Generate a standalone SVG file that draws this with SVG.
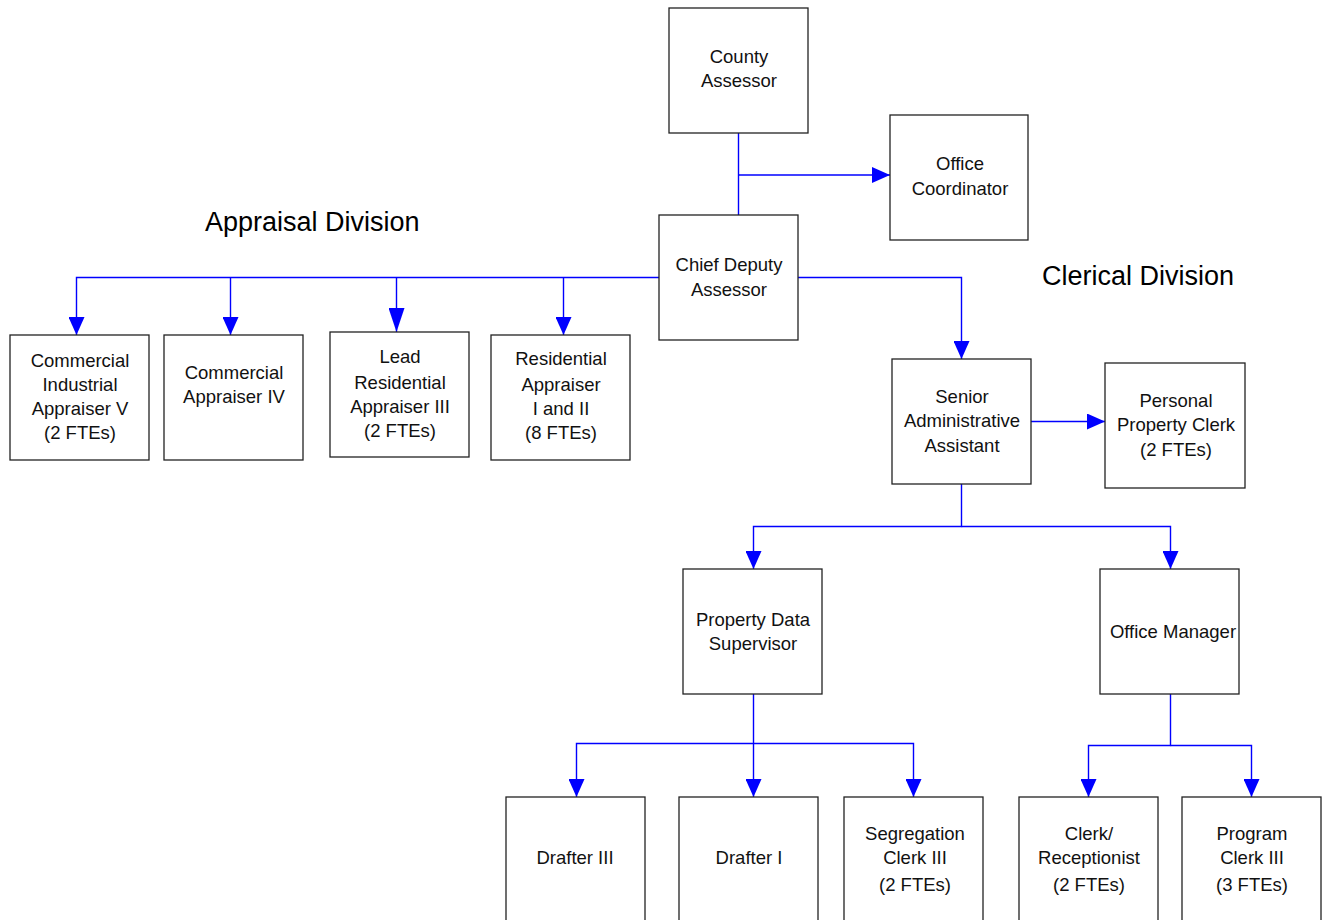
<svg xmlns="http://www.w3.org/2000/svg" width="1323" height="920" viewBox="0 0 1323 920">
<style>
.box{fill:#fff;stroke:#222;stroke-width:1.3}
.t{font-family:"Liberation Sans",Arial,sans-serif;font-size:18.5px;fill:#111;text-anchor:middle}
.h{font-family:"Liberation Sans",Arial,sans-serif;font-size:27px;fill:#000}
.c{fill:none;stroke:#0000ff;stroke-width:1.4}
</style>
<defs>
<marker id="arr" markerUnits="userSpaceOnUse" markerWidth="18" markerHeight="16" refX="18" refY="8" orient="auto">
<path d="M0,0 L18,8 L0,16 z" fill="#0000ff"/>
</marker>
<marker id="arrL" markerUnits="userSpaceOnUse" markerWidth="24" markerHeight="16" refX="24" refY="8" orient="auto">
<path d="M0,0 L24,8 L0,16 z" fill="#0000ff"/>
</marker>
</defs>
<rect width="1323" height="920" fill="#fff"/>
<g id="connectors">
<path class="c" d="M738.5,133 V215"/>
<path class="c" d="M738.5,175 H890" marker-end="url(#arr)"/>
<path class="c" d="M659,277.5 H76.5 V335" marker-end="url(#arr)"/>
<path class="c" d="M230.5,277.5 V335" marker-end="url(#arr)"/>
<path class="c" d="M396.5,277.5 V332" marker-end="url(#arrL)"/>
<path class="c" d="M563.5,277.5 V335" marker-end="url(#arr)"/>
<path class="c" d="M798,277.5 H961.5 V359" marker-end="url(#arr)"/>
<path class="c" d="M1031,421.5 H1105" marker-end="url(#arr)"/>
<path class="c" d="M961.5,484 V526.5 H753.5 V569" marker-end="url(#arr)"/>
<path class="c" d="M961.5,526.5 H1170.5 V569" marker-end="url(#arr)"/>
<path class="c" d="M753.5,694 V797" marker-end="url(#arr)"/>
<path class="c" d="M753.5,743.5 H576.5 V797" marker-end="url(#arr)"/>
<path class="c" d="M753.5,743.5 H913.5 V797" marker-end="url(#arr)"/>
<path class="c" d="M1170.5,694 V745.5 H1088.5 V797" marker-end="url(#arr)"/>
<path class="c" d="M1170.5,745.5 H1251.5 V797" marker-end="url(#arr)"/>
</g>
<g id="labels">
<text class="h" x="205" y="231">Appraisal Division</text>
<text class="h" x="1042" y="285">Clerical Division</text>
</g>
<g id="county-assessor">
<rect class="box" x="669" y="8" width="139" height="125"/>
<text class="t" x="739" y="63">County</text>
<text class="t" x="739" y="87">Assessor</text>
</g>
<g id="office-coordinator">
<rect class="box" x="890" y="115" width="138" height="125"/>
<text class="t" x="960" y="170">Office</text>
<text class="t" x="960" y="195">Coordinator</text>
</g>
<g id="chief-deputy">
<rect class="box" x="659" y="215" width="139" height="125"/>
<text class="t" x="729" y="271">Chief Deputy</text>
<text class="t" x="729" y="296">Assessor</text>
</g>
<g id="commercial-industrial">
<rect class="box" x="10" y="335" width="139" height="125"/>
<text class="t" x="80" y="367">Commercial</text>
<text class="t" x="80" y="391">Industrial</text>
<text class="t" x="80" y="415">Appraiser V</text>
<text class="t" x="80" y="439">(2 FTEs)</text>
</g>
<g id="commercial-iv">
<rect class="box" x="164" y="335" width="139" height="125"/>
<text class="t" x="234" y="379">Commercial</text>
<text class="t" x="234" y="403">Appraiser IV</text>
</g>
<g id="lead-residential">
<rect class="box" x="330" y="332" width="139" height="125"/>
<text class="t" x="400" y="363">Lead</text>
<text class="t" x="400" y="389">Residential</text>
<text class="t" x="400" y="413">Appraiser III</text>
<text class="t" x="400" y="437">(2 FTEs)</text>
</g>
<g id="residential-appraiser">
<rect class="box" x="491" y="335" width="139" height="125"/>
<text class="t" x="561" y="365">Residential</text>
<text class="t" x="561" y="391">Appraiser</text>
<text class="t" x="561" y="415">I and II</text>
<text class="t" x="561" y="439">(8 FTEs)</text>
</g>
<g id="senior-admin">
<rect class="box" x="892" y="359" width="139" height="125"/>
<text class="t" x="962" y="403">Senior</text>
<text class="t" x="962" y="427">Administrative</text>
<text class="t" x="962" y="452">Assistant</text>
</g>
<g id="personal-property">
<rect class="box" x="1105" y="363" width="140" height="125"/>
<text class="t" x="1176" y="407">Personal</text>
<text class="t" x="1176" y="431">Property Clerk</text>
<text class="t" x="1176" y="456">(2 FTEs)</text>
</g>
<g id="property-data">
<rect class="box" x="683" y="569" width="139" height="125"/>
<text class="t" x="753" y="626">Property Data</text>
<text class="t" x="753" y="650">Supervisor</text>
</g>
<g id="office-manager">
<rect class="box" x="1100" y="569" width="139" height="125"/>
<text class="t" x="1173" y="638">Office Manager</text>
</g>
<g id="drafter-iii">
<rect class="box" x="506" y="797" width="139" height="140"/>
<text class="t" x="575" y="864">Drafter III</text>
</g>
<g id="drafter-i">
<rect class="box" x="679" y="797" width="139" height="140"/>
<text class="t" x="749" y="864">Drafter I</text>
</g>
<g id="segregation-clerk">
<rect class="box" x="844" y="797" width="139" height="140"/>
<text class="t" x="915" y="840">Segregation</text>
<text class="t" x="915" y="864">Clerk III</text>
<text class="t" x="915" y="891">(2 FTEs)</text>
</g>
<g id="clerk-receptionist">
<rect class="box" x="1019" y="797" width="139" height="140"/>
<text class="t" x="1089" y="840">Clerk/</text>
<text class="t" x="1089" y="864">Receptionist</text>
<text class="t" x="1089" y="891">(2 FTEs)</text>
</g>
<g id="program-clerk">
<rect class="box" x="1182" y="797" width="139" height="140"/>
<text class="t" x="1252" y="840">Program</text>
<text class="t" x="1252" y="864">Clerk III</text>
<text class="t" x="1252" y="891">(3 FTEs)</text>
</g>
</svg>
